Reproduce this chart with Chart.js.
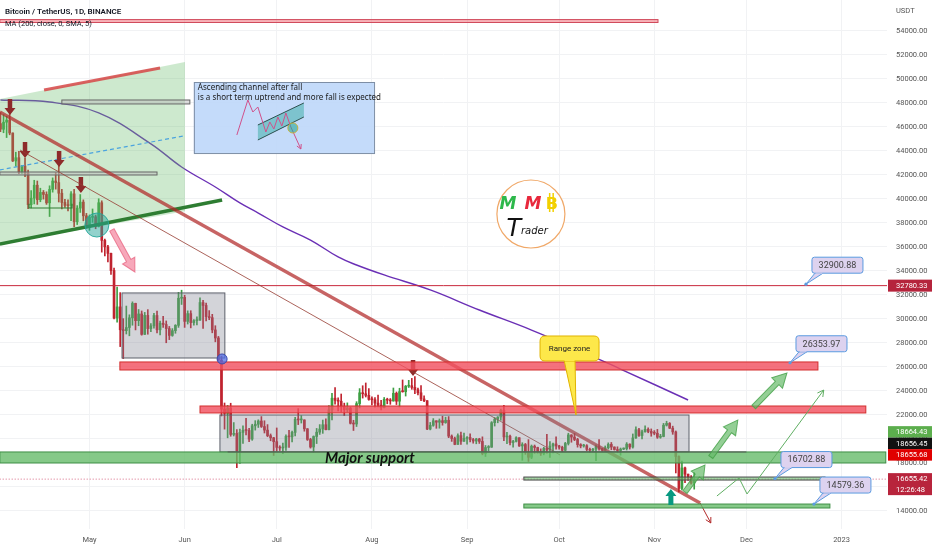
<!DOCTYPE html>
<html lang="en">
<head>
<meta charset="UTF-8" />
<title>Bitcoin / TetherUS, 1D</title>
<script src="https://cdn.jsdelivr.net/npm/chart.js@4.4.0/dist/chart.umd.min.js"></script>
<style>
  html, body { margin: 0; padding: 0; background: #fff; }
  #chart { display: block; }
</style>
</head>
<body>
<canvas id="chart" width="932" height="550"></canvas>
<script>
// days are counted from 1 May 2022; the first candle is 2 Apr 2022
const candleStart = -29;
const firstOpen = 46280;

const closes = [
  45810,46400,46580,45500,43170,43440,42250,42750,42150,39530,40070,41150,39940,40550,40380,39680,40800,41500,41370,40480,39710,39470,39450,40430,38110,39240,39740,38600,37630,
  38470,38520,37720,39690,36550,36010,35470,34040,30080,31010,29100,29030,29290,30100,31300,29860,30420,28720,30300,29200,29430,30290,29100,29650,29540,29200,28630,29030,29470,31730,31800,
  29800,30450,29700,29860,29910,31370,31130,30200,30110,29090,28420,26570,22490,22140,22580,20380,20470,19020,20550,20720,20710,19990,21100,21230,21500,21040,20740,20280,20100,19780,
  19300,19250,19310,20220,20180,20550,21640,21590,21590,20850,19960,19330,20210,20570,20830,21190,20780,22430,23400,23220,23150,22680,22450,22580,21310,21250,22950,23850,23770,23640,23300,
  23270,22990,22820,22620,23310,23230,23170,23810,23150,23950,23940,24400,24440,24300,24100,23850,23340,23190,20830,21140,21520,21400,21530,21370,21560,20240,20040,19550,20280,19810,20050,
  20130,19950,19830,20000,19800,18790,19290,19320,21360,21650,21830,22400,20170,20230,19700,19800,20110,19420,19540,18880,18480,19400,19290,18920,18800,19220,19080,19410,19590,19420,
  19310,19060,19630,20340,20160,19960,19530,19420,19440,19130,19060,19150,19380,19180,19070,19270,19550,19330,19120,19040,19160,19200,19570,19330,20090,20770,20290,20600,20810,20630,20490,
  20480,20150,20210,21150,21300,20900,20590,18540,15880,17590,17070,16810,16330,16655
];
const highs = [
  47210,47030,46890,47200,45510,43900,43970,42800,43420,42420,40700,41560,41500,40900,40710,40600,41100,41760,42200,42980,40800,39980,39930,40620,40800,39450,40370,39930,38800,
  38670,39170,38650,40020,39850,36650,36130,35500,34250,32660,32200,30030,31080,30350,31430,31320,30790,30670,30550,30780,29620,30480,30650,29830,30220,29840,29380,29200,29530,32220,32400,
  31980,30680,30690,29960,30180,31770,31550,31330,30700,30390,29440,28550,26900,23000,22800,22980,21370,20780,20820,21090,21720,20880,21230,21530,21600,21870,21520,21200,20420,20140,
  20920,19440,19650,20350,20730,20670,21810,22530,21950,21600,20870,20060,20260,20880,21200,21580,21680,22780,23800,24280,23430,23750,22990,23010,22650,21560,23110,24200,24440,24670,24200,
  23510,23460,23650,23230,23460,23400,23370,24250,23920,24230,24920,24460,24890,25050,25210,24250,24450,23600,23200,21380,21700,21520,21670,21900,21820,21870,20340,20160,20430,20580,20490,
  20210,20440,20050,20060,20060,20180,19460,19450,21450,21790,21860,22490,22800,20560,20330,19890,20190,20100,19690,19630,19950,19500,19500,19320,19180,19310,20380,19790,19650,20180,
  19480,19400,19720,20480,20360,20460,20060,19610,19560,19530,19250,19220,19520,19950,19230,19420,19680,19710,19350,19350,19250,19260,19700,19600,20420,21020,20880,20750,21090,20930,20840,
  20700,20800,20390,21300,21480,21370,21070,20670,18590,18150,17650,17080,16950,17190
];
const lows = [
  45620,45520,45120,45350,43120,42730,42110,42130,41870,39200,39250,39590,39550,39770,39990,39550,38540,40570,40820,39750,39180,39290,39000,38200,37700,37870,38880,38180,37580,
  37390,38050,37520,37670,35570,35260,34750,33710,30000,29730,27700,26700,28750,28600,29480,29090,29440,28650,28700,28730,28950,29240,28850,28680,29300,28020,28280,28560,28810,29300,31210,
  29300,29580,29260,29480,29510,29880,29220,29850,29940,28850,28100,26560,21920,20820,20100,20230,20250,17620,17960,19640,20350,19770,19890,20740,20960,20960,20500,20190,19850,18630,
  19000,19040,18780,19040,19300,19760,20260,21200,21330,20650,19880,19240,18910,19620,20380,20470,20750,20760,21580,22900,22340,22260,21950,22260,21250,20710,21040,22590,23410,23500,23230,
  22850,22650,22680,22420,22590,22930,22890,23150,22870,22670,23900,23580,24290,24140,23770,23670,23190,23110,20780,20760,21060,20890,20900,21150,21310,20110,19800,19520,19550,19540,19800,
  19570,19750,19650,19600,19630,18680,18540,19020,19300,21080,21350,21560,19860,19620,19500,19320,19750,19380,18230,18720,18130,18360,18810,18820,18630,18680,18810,18470,18840,19160,
  19150,18920,19000,19500,19730,19860,19320,19260,19320,19030,18860,18970,18190,19070,18980,19070,19160,19100,19070,18900,18650,19110,19080,19160,19240,20050,20220,20000,20560,20520,20230,
  20350,20050,20060,20180,21080,20870,20390,17170,15590,15750,16360,16550,16230,15820
];

// MA(200)
const maDays   = [-29, -13, 3, 20, 30, 41, 49, 55, 63, 72, 81, 87, 96, 111, 127, 144, 160, 173, 195];
const maValues = [48250, 48080, 47170, 44600, 42670, 41000, 39670, 38830, 37670, 36580, 35170, 34500, 33670, 32420, 30750, 29080, 27330, 25830, 23250];

const monthDays   = [0, 31, 61, 92, 123, 153, 184, 214, 245];
const monthLabels = ['May', 'Jun', 'Jul', 'Aug', 'Sep', 'Oct', 'Nov', 'Dec', '2023'];
const priceTicks  = [14000, 16000, 18000, 20000, 22000, 24000, 26000, 28000, 30000, 32000, 34000,
                     36000, 38000, 40000, 42000, 44000, 46000, 48000, 50000, 52000, 54000];

const lastPrice = 16655.42;
const lastTime = '12:26:48';
const levelPrice = 32780.33;
const stackTags = ['18664.43', '18656.45', '18655.68'];
const calloutTexts = ['32900.88', '26353.97', '16702.88', '14579.36'];
const calloutPrices = [32900.88, 26353.97, 16702.88, 14579.36];
const calloutDays = [233.4, 228.2, 223.3, 236.0];

const GREEN = '#3d9f43', RED = '#c0232f';
const opens = closes.map((c, i) => (i === 0 ? firstOpen : closes[i - 1]));
const candleColor = closes.map((c, i) => (c >= opens[i] ? GREEN : RED));

const FONT = 'Roboto, "Liberation Sans", sans-serif';

function blockArrow(ctx, x1, y1, x2, y2, w, hw, hl, fill, stroke) {
  const ang = Math.atan2(y2 - y1, x2 - x1), len = Math.hypot(x2 - x1, y2 - y1);
  ctx.save();
  ctx.translate(x1, y1); ctx.rotate(ang);
  ctx.beginPath();
  ctx.moveTo(0, -w / 2); ctx.lineTo(len - hl, -w / 2); ctx.lineTo(len - hl, -hw / 2);
  ctx.lineTo(len, 0); ctx.lineTo(len - hl, hw / 2); ctx.lineTo(len - hl, w / 2); ctx.lineTo(0, w / 2);
  ctx.closePath();
  ctx.fillStyle = fill; ctx.fill();
  if (stroke) { ctx.strokeStyle = stroke; ctx.lineWidth = 1; ctx.stroke(); }
  ctx.restore();
}

function lineArrow(ctx, pts, color, lw, head) {
  ctx.strokeStyle = color; ctx.lineWidth = lw;
  ctx.beginPath();
  pts.forEach((p, i) => (i ? ctx.lineTo(p[0], p[1]) : ctx.moveTo(p[0], p[1])));
  ctx.stroke();
  const [a, b] = [pts[pts.length - 2], pts[pts.length - 1]];
  const ang = Math.atan2(b[1] - a[1], b[0] - a[0]);
  ctx.beginPath();
  ctx.moveTo(b[0] - head * Math.cos(ang - 0.5), b[1] - head * Math.sin(ang - 0.5));
  ctx.lineTo(b[0], b[1]);
  ctx.lineTo(b[0] - head * Math.cos(ang + 0.5), b[1] - head * Math.sin(ang + 0.5));
  ctx.stroke();
}

function roundRect(ctx, x, y, w, h, r) {
  ctx.beginPath();
  ctx.moveTo(x + r, y); ctx.lineTo(x + w - r, y); ctx.quadraticCurveTo(x + w, y, x + w, y + r);
  ctx.lineTo(x + w, y + h - r); ctx.quadraticCurveTo(x + w, y + h, x + w - r, y + h);
  ctx.lineTo(x + r, y + h); ctx.quadraticCurveTo(x, y + h, x, y + h - r);
  ctx.lineTo(x, y + r); ctx.quadraticCurveTo(x, y, x + r, y);
  ctx.closePath();
}

const drawings = {
  id: 'drawings',
  afterDatasetsDraw(chart) {
    const { ctx, chartArea: a, scales } = chart;
    const X = d => scales.x.getPixelForValue(d);
    const Y = p => scales.y.getPixelForValue(p);
    const band = (d1, d2, p1, p2, fill, stroke) => {
      const x1 = X(d1), x2 = X(d2), y1 = Y(p1), y2 = Y(p2);
      ctx.fillStyle = fill; ctx.fillRect(x1, y1, x2 - x1, y2 - y1);
      if (stroke) { ctx.strokeStyle = stroke; ctx.lineWidth = 1; ctx.strokeRect(x1, y1, x2 - x1, y2 - y1); }
    };
    const seg = (d1, p1, d2, p2, color, lw, dash) => {
      ctx.setLineDash(dash || []);
      ctx.strokeStyle = color; ctx.lineWidth = lw;
      ctx.beginPath(); ctx.moveTo(X(d1), Y(p1)); ctx.lineTo(X(d2), Y(p2)); ctx.stroke();
      ctx.setLineDash([]);
    };
    const downMark = (d, p) => blockArrow(ctx, X(d), Y(p) - 16, X(d), Y(p), 4.5, 11, 7, '#8e2b2b');

    ctx.save();
    ctx.beginPath(); ctx.rect(a.left, a.top, a.right - a.left, a.bottom - a.top); ctx.clip();
    ctx.lineCap = 'butt';

    // horizontal level and last price line
    seg(-40, levelPrice, 300, levelPrice, '#c8283c', 1);
    seg(-40, lastPrice, 300, lastPrice, 'rgba(200,40,80,0.7)', 1, [1, 2]);

    // top band
    band(-29.2, 185.2, 54950, 54710, 'rgba(242,120,130,0.55)', '#d0485a');

    // ascending channel
    ctx.fillStyle = 'rgba(102,187,106,0.33)';
    ctx.beginPath();
    ctx.moveTo(X(-29.2), Y(48330)); ctx.lineTo(X(31.1), Y(51420));
    ctx.lineTo(X(31.1), Y(38970)); ctx.lineTo(X(-29.2), Y(36250)); ctx.closePath(); ctx.fill();
    seg(-14.8, 49080, 23, 50920, 'rgba(214,70,70,0.85)', 3);
    seg(-29.2, 36250, 43.2, 39920, '#2e7d32', 3.5);
    seg(-29.2, 42420, 31.1, 45270, '#4aa3df', 1.2, [4, 3]);
    band(-9, 32.7, 48250, 47920, 'rgba(190,190,190,0.5)', '#666');
    band(-29.2, 22, 42250, 42000, 'rgba(190,190,190,0.5)', '#666');
    ctx.strokeStyle = '#2e7d32'; ctx.lineWidth = 1.2;
    ctx.beginPath();
    ctx.moveTo(X(-19.7), Y(39600)); ctx.lineTo(X(-19.7), Y(39250));
    ctx.lineTo(X(-5.7), Y(39250)); ctx.lineTo(X(-5.7), Y(39600)); ctx.stroke();

    // down markers
    [[-25.9, 47000], [-21, 43420], [-9.9, 42670], [-2.8, 40500], [105.4, 25250]].forEach(m => downMark(m[0], m[1]));

    // breakdown circle and arrow
    ctx.beginPath(); ctx.arc(X(2.4), Y(37830), 12, 0, Math.PI * 2);
    ctx.fillStyle = 'rgba(38,166,154,0.5)'; ctx.fill();
    ctx.strokeStyle = 'rgba(38,166,154,0.9)'; ctx.lineWidth = 1; ctx.stroke();
    blockArrow(ctx, X(7.3), Y(37420), X(14.8), Y(33920), 5, 14, 13, 'rgba(242,110,140,0.6)', 'rgba(230,90,120,0.7)');

    // falling trend lines
    seg(-29.2, 47250, 198.9, 14670, 'rgba(178,40,40,0.72)', 3.5);
    lineArrow(ctx, [[X(198.9), Y(14670)], [X(202.4), Y(13000)]], '#b22a2a', 1, 6);
    seg(-22.6, 44080, 153.3, 18670, 'rgba(150,60,50,0.8)', 1);

    // range boxes and zones
    band(10.6, 44.1, 32170, 26750, 'rgba(130,133,145,0.35)', '#5d606b');
    band(9.9, 237.3, 26420, 25750, 'rgba(242,82,96,0.82)', '#d32f2f');
    band(36, 252.9, 22750, 22170, 'rgba(242,82,96,0.82)', '#d32f2f');
    band(42.5, 195.3, 22000, 18920, 'rgba(130,133,145,0.35)', '#5d606b');
    band(-29.2, 259.4, 18920, 18000, 'rgba(102,187,106,0.8)', '#3f8f46');
    seg(45, 18920, 214, 18920, '#555', 1);
    band(141.5, 239.6, 16830, 16580, 'rgba(102,187,106,0.6)', '#4a4a4a');
    band(141.5, 241.2, 14580, 14250, 'rgba(102,187,106,0.8)', '#3f8f46');

    ctx.beginPath(); ctx.arc(X(43.2), Y(26670), 5, 0, Math.PI * 2);
    ctx.fillStyle = 'rgba(80,110,230,0.75)'; ctx.fill();
    ctx.strokeStyle = '#3949ab'; ctx.lineWidth = 1; ctx.stroke();

    ctx.fillStyle = '#111';
    ctx.font = 'italic bold 15px Lato, sans-serif';
    ctx.textAlign = 'left'; ctx.textBaseline = 'middle';
    ctx.fillText('Major support', X(76.7), Y(18420));

    // projected moves
    const ga = 'rgba(102,187,106,0.7)', gs = 'rgba(67,160,71,0.8)';
    blockArrow(ctx, X(194), Y(15580), X(200.5), Y(17830), 5, 15, 13, ga, gs);
    blockArrow(ctx, X(202.4), Y(18500), X(211.2), Y(21580), 5, 15, 14, ga, gs);
    blockArrow(ctx, X(216.4), Y(22670), X(227.2), Y(25500), 5, 15, 14, ga, gs);
    lineArrow(ctx, [[X(204.4), Y(15250)], [X(211.6), Y(16750)], [X(214.2), Y(15420)], [X(239.2), Y(24080)]], '#5fae62', 1, 7);
    blockArrow(ctx, X(189.4), Y(14500), X(189.4), Y(15830), 5, 11, 7, '#089981');

    // range zone callout
    const tx = X(158.5), ty = Y(22000);
    ctx.fillStyle = '#fde84a'; ctx.strokeStyle = '#e0b400'; ctx.lineWidth = 1;
    ctx.beginPath(); ctx.moveTo(tx - 12, ty - 55); ctx.lineTo(tx, ty); ctx.lineTo(tx - 1, ty - 55); ctx.closePath();
    ctx.fill(); ctx.stroke();
    roundRect(ctx, tx - 36, ty - 79, 59, 25, 5); ctx.fill(); ctx.stroke();
    ctx.beginPath(); ctx.moveTo(tx - 11.5, ty - 54.5); ctx.lineTo(tx - 1.5, ty - 54.5);
    ctx.strokeStyle = '#fde84a'; ctx.stroke();
    ctx.fillStyle = '#222'; ctx.font = '8px ' + FONT; ctx.textAlign = 'center';
    ctx.fillText('Range zone', tx - 6.5, ty - 66);

    // price callouts
    calloutTexts.forEach((t, i) => {
      const px = X(calloutDays[i]), py = Y(calloutPrices[i]);
      const bx = px + 6, by = py - 27;
      ctx.fillStyle = '#ddd2ef'; ctx.strokeStyle = '#5b9be0'; ctx.lineWidth = 1;
      ctx.beginPath(); ctx.moveTo(bx + 3, by + 16); ctx.lineTo(px, py); ctx.lineTo(bx + 11, by + 16); ctx.closePath();
      ctx.fill(); ctx.stroke();
      roundRect(ctx, bx, by, 51, 16, 2.5); ctx.fill(); ctx.stroke();
      ctx.beginPath(); ctx.moveTo(bx + 3.5, by + 16); ctx.lineTo(bx + 10.5, by + 16);
      ctx.strokeStyle = '#ddd2ef'; ctx.stroke();
      ctx.beginPath(); ctx.arc(px, py, 1.6, 0, Math.PI * 2); ctx.fillStyle = '#5b9be0'; ctx.fill();
      ctx.fillStyle = '#444'; ctx.font = '9px ' + FONT; ctx.textAlign = 'center';
      ctx.fillText(t, bx + 25.5, by + 8.5);
    });

    // note box with sketch
    const nx = X(34), ny = Y(49750), nw = X(92.7) - nx, nh = Y(43830) - ny;
    ctx.fillStyle = 'rgba(190,215,250,0.9)'; ctx.fillRect(nx, ny, nw, nh);
    ctx.strokeStyle = '#7d8ea5'; ctx.lineWidth = 1; ctx.strokeRect(nx + 0.5, ny + 0.5, nw, nh);
    ctx.fillStyle = 'rgba(38,166,154,0.45)'; ctx.strokeStyle = '#2d4f4f';
    ctx.beginPath(); ctx.moveTo(nx + 64, ny + 43); ctx.lineTo(nx + 110, ny + 21);
    ctx.lineTo(nx + 110, ny + 35); ctx.lineTo(nx + 64, ny + 58); ctx.closePath(); ctx.fill();
    ctx.beginPath(); ctx.moveTo(nx + 64, ny + 43); ctx.lineTo(nx + 110, ny + 21);
    ctx.moveTo(nx + 64, ny + 58); ctx.lineTo(nx + 110, ny + 35); ctx.stroke();
    const zig = [[43, 53], [54, 18], [59, 30], [64, 25], [72, 50], [76, 40], [80, 47], [84, 35], [88, 44], [92, 31], [97, 45], [107, 67]];
    lineArrow(ctx, zig.map(p => [nx + p[0], ny + p[1]]), '#d0508a', 1, 5);
    ctx.beginPath(); ctx.arc(nx + 99, ny + 46, 5, 0, Math.PI * 2);
    ctx.fillStyle = 'rgba(38,166,154,0.6)'; ctx.fill(); ctx.strokeStyle = '#c9b03a'; ctx.stroke();
    ctx.fillStyle = '#1a1a1a'; ctx.font = '8px "Noto Sans", sans-serif'; ctx.textAlign = 'left';
    ctx.fillText('Ascending channel after fall', nx + 4, ny + 6);
    ctx.fillText('is a short term uptrend and more fall is expected', nx + 4, ny + 16);

    // logo
    const lx = X(143.8), ly = Y(38750);
    ctx.beginPath(); ctx.arc(lx, ly, 34, 0, Math.PI * 2);
    ctx.fillStyle = '#fff'; ctx.fill(); ctx.strokeStyle = '#f0a868'; ctx.lineWidth = 1.2; ctx.stroke();
    ctx.textAlign = 'center'; ctx.textBaseline = 'alphabetic';
    ctx.font = 'italic bold 17px "DejaVu Sans", sans-serif';
    ctx.fillStyle = '#2db84b'; ctx.fillText('M', lx - 23, ly - 5);
    ctx.fillStyle = '#e8283c'; ctx.fillText('M', lx + 2, ly - 5);
    ctx.fillStyle = '#f2d000'; ctx.font = 'bold 16px "DejaVu Sans", sans-serif'; ctx.fillText('B', lx + 21, ly - 5);
    ctx.fillRect(lx + 18, ly - 21, 1.5, 19); ctx.fillRect(lx + 21.5, ly - 21, 1.5, 19);
    ctx.fillStyle = '#111'; ctx.font = 'italic 24px "DejaVu Sans", sans-serif';
    ctx.fillText('T', lx - 17, ly + 22);
    ctx.font = 'italic 10px "DejaVu Sans", sans-serif'; ctx.textAlign = 'left';
    ctx.fillText('rader', lx - 10, ly + 20);

    ctx.restore();
  },
  afterDraw(chart) {
    const { ctx, chartArea: a, scales } = chart;
    const Y = p => scales.y.getPixelForValue(p);
    const ax = a.right + 1, aw = chart.width - ax;
    ctx.save();
    ctx.font = '7.5px ' + FONT; ctx.textAlign = 'left'; ctx.textBaseline = 'middle';
    const tag = (yc, h, bg, lines) => {
      ctx.fillStyle = bg; ctx.fillRect(ax, yc - 6, aw, h);
      ctx.fillStyle = '#fff';
      lines.forEach((t, i) => ctx.fillText(t, ax + 8, yc + i * 10.5));
    };
    tag(Y(levelPrice), 12, '#b5243c', [levelPrice.toFixed(2)]);
    const base = Y(18655.68);
    tag(base - 23, 11.5, '#5cae4d', [stackTags[0]]);
    tag(base - 11.5, 11.5, '#111', [stackTags[1]]);
    tag(base, 11.5, '#e00000', [stackTags[2]]);
    tag(Y(lastPrice), 22, '#b8243c', [lastPrice.toFixed(2), lastTime]);

    ctx.fillStyle = '#555'; ctx.fillText('USDT', ax + 8, 11);
    ctx.fillStyle = '#131722';
    ctx.font = '600 8px ' + FONT; ctx.fillText('Bitcoin / TetherUS, 1D, BINANCE', 5, 12);
    ctx.font = '7.5px ' + FONT; ctx.fillText('MA (200, close, 0, SMA, 5)', 5, 24);
    ctx.restore();
  }
};

new Chart(document.getElementById('chart'), {
  type: 'bar',
  data: {
    datasets: [
      {
        type: 'line',
        label: 'MA 200',
        data: maDays.map((d, i) => ({ x: d, y: maValues[i] })),
        borderColor: '#6a2fb5',
        borderWidth: 1.4,
        pointRadius: 0,
        tension: 0.4,
        order: 0
      },
      {
        label: 'wick',
        data: closes.map((c, i) => ({ x: candleStart + i, y: [lows[i], highs[i]] })),
        backgroundColor: candleColor,
        barThickness: 1,
        grouped: false,
        order: 2
      },
      {
        label: 'body',
        data: closes.map((c, i) => ({ x: candleStart + i, y: [opens[i], c] })),
        backgroundColor: candleColor,
        barThickness: 2,
        minBarLength: 1,
        grouped: false,
        order: 1
      }
    ]
  },
  options: {
    responsive: false,
    animation: false,
    devicePixelRatio: 1,
    layout: { padding: 0 },
    plugins: { legend: { display: false }, tooltip: { enabled: false } },
    scales: {
      x: {
        type: 'linear',
        offset: false,
        min: -29.15,
        max: 259.8,
        grid: { color: '#f1f2f4', drawTicks: false, offset: false },
        border: { display: false },
        ticks: {
          autoSkip: false, maxRotation: 0, padding: 7, color: '#555',
          font: { size: 7.5, family: FONT },
          callback: v => monthLabels[monthDays.indexOf(v)]
        },
        afterBuildTicks: axis => { axis.ticks = monthDays.map(v => ({ value: v })); },
        afterFit: axis => { axis.height = 21; axis.paddingLeft = 0; axis.paddingRight = 0; }
      },
      y: {
        position: 'right',
        min: 12500,
        max: 56583,
        grid: { color: '#f1f2f4', drawTicks: false },
        border: { display: false },
        ticks: {
          padding: 9, color: '#555',
          font: { size: 7.5, family: FONT },
          callback: v => v.toFixed(2)
        },
        afterBuildTicks: axis => { axis.ticks = priceTicks.map(v => ({ value: v })); },
        afterFit: axis => { axis.width = 45; axis.paddingTop = 0; axis.paddingBottom = 0; }
      }
    }
  },
  plugins: [drawings]
});
</script>
</body>
</html>
